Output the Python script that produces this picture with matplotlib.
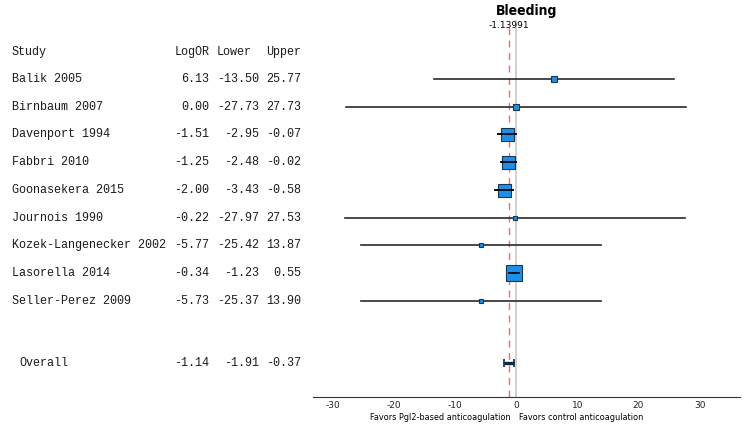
import matplotlib.pyplot as plt
import matplotlib.transforms as mtransforms

plt.rcParams['axes.unicode_minus'] = False

# Study data
studies = ["Balik 2005", "Birnbaum 2007", "Davenport 1994", "Fabbri 2010",
           "Goonasekera 2015", "Journois 1990", "Kozek-Langenecker 2002",
           "Lasorella 2014", "Seller-Perez 2009"]
log_or = [6.13, 0.00, -1.51, -1.25, -2.00, -0.22, -5.77, -0.34, -5.73]
lower = [-13.50, -27.73, -2.95, -2.48, -3.43, -27.97, -25.42, -1.23, -25.37]
upper = [25.77, 27.73, -0.07, -0.02, -0.58, 27.53, 13.87, 0.55, 13.90]
box_px = [6, 6, 13, 13, 13, 5, 5, 16, 5]  # relative box size (weight)

overall = -1.14
overall_lower = -1.91
overall_upper = -0.37
overall_label = "-1.13991"

fig = plt.figure(figsize=(7.5, 4.26), dpi=100)
ax = fig.add_axes([313 / 750, 1 - 397 / 426, 427 / 750, 377 / 426])

rows = list(range(len(studies)))
overall_row = 10.25

# reference lines
ax.axvline(0, color="#c8c8c8", lw=1.2, zorder=1)
ax.plot([overall, overall], [11.48, -1.9], color="#e87070", lw=1,
        ls=(0, (5, 4)), zorder=1)

for y, m, lo, hi, s in zip(rows, log_or, lower, upper, box_px):
    ax.plot([lo, hi], [y, y], color="#2a2a2a", lw=1.2, zorder=2)
    ax.plot(m, y, marker="s", markersize=s * 0.72, color="#1e8fe6",
            markeredgecolor="#1a3550", markeredgewidth=0.8, zorder=3)
    if hi - lo < 5:
        ax.plot([lo, hi], [y, y], color="black", lw=1.2, zorder=4)

ax.errorbar(overall, overall_row,
            xerr=[[overall - overall_lower], [overall_upper - overall]],
            fmt="none", ecolor="#0e2a44", elinewidth=2.4, capsize=3, capthick=1.2, zorder=4)

ax.set_xlim(-33.2, 36.6)
ax.set_ylim(11.48, -2.13)
ax.set_xticks([-30, -20, -10, 0, 10, 20, 30])
ax.set_yticks([])
for sp in ["top", "left", "right"]:
    ax.spines[sp].set_visible(False)
ax.spines["bottom"].set_color("#333333")
ax.tick_params(axis="x", length=0, pad=3, labelsize=6.5, labelcolor="#222222")

# table on the left (monospace columns, 7.05 px per character)
trans = mtransforms.blended_transform_factory(fig.transFigure, ax.transData)
mono = dict(family="Liberation Mono", fontsize=8.45, transform=trans,
            va="center", color="#1a1a1a", clip_on=False)
cw = 7.05
x0 = 12


def col(n):
    return (x0 + n * cw) / 750


hy = -0.97
ax.text(col(0), hy, "Study", ha="left", **mono)
ax.text(col(23), hy, "LogOR", ha="left", **mono)
ax.text(col(29), hy, "Lower", ha="left", **mono)
ax.text(col(36), hy, "Upper", ha="left", **mono)
for y, name, m, lo, hi in zip(rows, studies, log_or, lower, upper):
    ax.text(col(0), y, name, ha="left", **mono)
    ax.text(col(28), y, f"{m:.2f}", ha="right", **mono)
    ax.text(col(35), y, f"{lo:.2f}", ha="right", **mono)
    ax.text(col(41), y, f"{hi:.2f}", ha="right", **mono)
ax.text(col(1), overall_row, "Overall", ha="left", **mono)
ax.text(col(28), overall_row, f"{overall:.2f}", ha="right", **mono)
ax.text(col(35), overall_row, f"{overall_lower:.2f}", ha="right", **mono)
ax.text(col(41), overall_row, f"{overall_upper:.2f}", ha="right", **mono)

# title and labels
fig.text(527 / 750, 1 - 11 / 426, "Bleeding", ha="center", va="center",
         fontsize=10, fontweight="bold", fontstretch="condensed",
         family="DejaVu Sans")
fig.text(509 / 750, 1 - 26 / 426, overall_label, ha="center", va="center",
         fontsize=6.5)
fig.text(511 / 750, 1 - 417 / 426, "Favors PgI2-based anticoagulation",
         ha="right", va="center", fontsize=5.9)
fig.text(519 / 750, 1 - 417 / 426, "Favors control anticoagulation",
         ha="left", va="center", fontsize=5.9)

fig.savefig("out.png", dpi=100)
